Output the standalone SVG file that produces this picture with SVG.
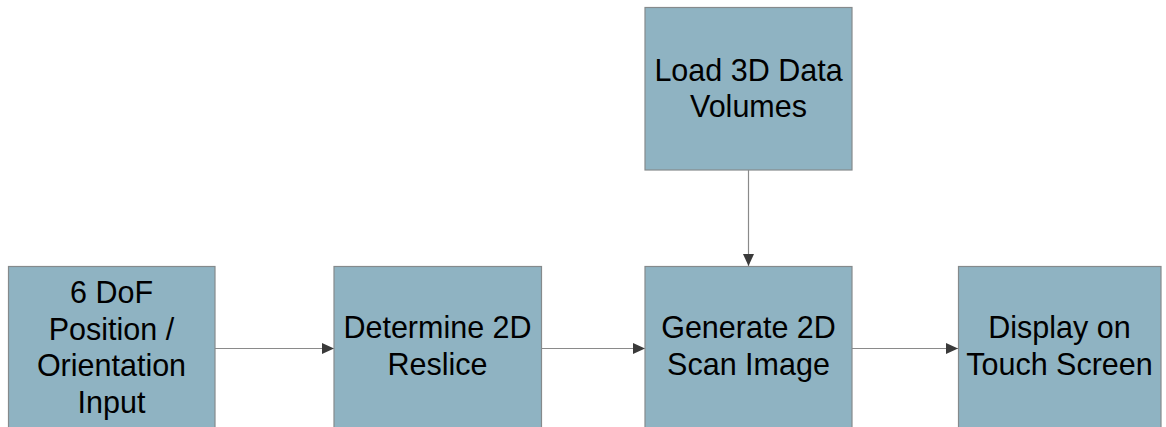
<svg xmlns="http://www.w3.org/2000/svg" width="1166" height="427" viewBox="0 0 1166 427">
  <style>
    .box { fill: #8fb3c2; stroke: #858a8c; stroke-width: 1.2; }
    .lbl { font-family: "Liberation Sans", Arial, sans-serif; font-size: 30.5px; fill: #000; text-anchor: middle; }
    .conn { stroke: #8a8a8a; stroke-width: 1.2; fill: none; marker-end: url(#arrow); }
  </style>
  <defs>
    <marker id="arrow" viewBox="0 0 12 11" refX="12" refY="5.5" markerWidth="12" markerHeight="11" markerUnits="userSpaceOnUse" orient="auto">
      <path d="M0,0 L12,5.5 L0,11 Z" fill="#3a3a3a"/>
    </marker>
  </defs>
  <rect width="1166" height="427" fill="#fff"/>

  <g id="connectors">
    <line class="conn" x1="748.5" y1="170" x2="748.5" y2="266"/>
    <line class="conn" x1="215" y1="348.5" x2="334" y2="348.5"/>
    <line class="conn" x1="541.5" y1="348.5" x2="645" y2="348.5"/>
    <line class="conn" x1="852" y1="348.5" x2="958" y2="348.5"/>
  </g>

  <g id="load-volumes">
    <rect class="box" x="645" y="7.5" width="207" height="162.5"/>
    <text class="lbl" x="748.5" y="80.5">Load 3D Data</text>
    <text class="lbl" x="748.5" y="116.5">Volumes</text>
  </g>

  <g id="pose-input">
    <rect class="box" x="8.5" y="266.5" width="206.5" height="165"/>
    <text class="lbl" x="111.5" y="303">6 DoF</text>
    <text class="lbl" x="111.5" y="339.5">Position /</text>
    <text class="lbl" x="111.5" y="376">Orientation</text>
    <text class="lbl" x="111.5" y="412.5">Input</text>
  </g>

  <g id="reslice">
    <rect class="box" x="334" y="266.5" width="207.5" height="165"/>
    <text class="lbl" x="437.5" y="338">Determine 2D</text>
    <text class="lbl" x="437.5" y="374.5">Reslice</text>
  </g>

  <g id="scan-image">
    <rect class="box" x="645" y="266.5" width="207" height="165"/>
    <text class="lbl" x="748.5" y="338">Generate 2D</text>
    <text class="lbl" x="748.5" y="374.5">Scan Image</text>
  </g>

  <g id="display">
    <rect class="box" x="958.5" y="266.5" width="202.5" height="165"/>
    <text class="lbl" x="1059.5" y="338">Display on</text>
    <text class="lbl" x="1059.5" y="374.5">Touch Screen</text>
  </g>
</svg>
